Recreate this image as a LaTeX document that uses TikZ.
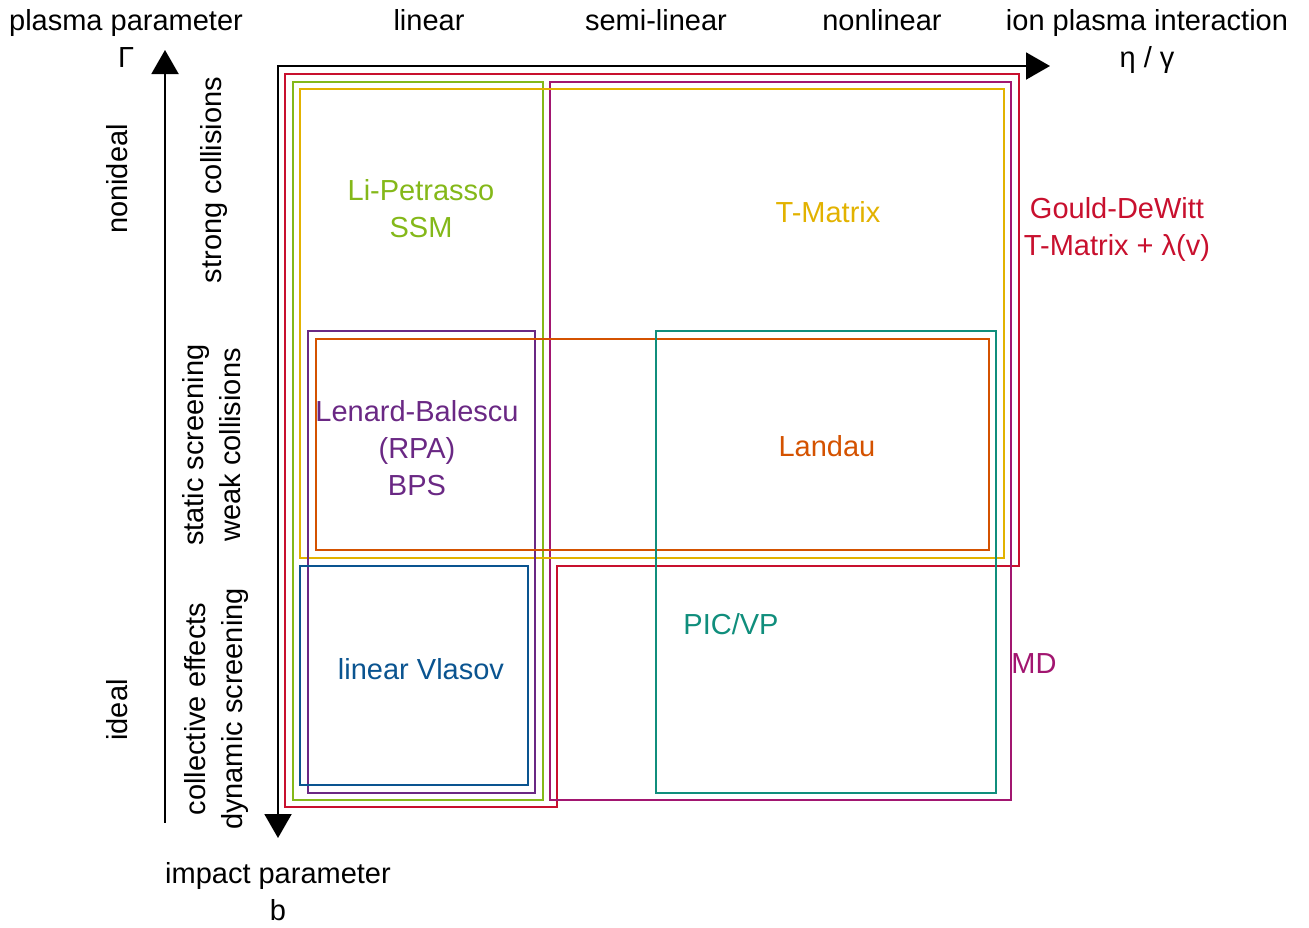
\documentclass[tikz,border=0pt]{standalone}
\usepackage{fontspec}
\setmainfont{Liberation Sans}
\usepackage{tikz}
\usetikzlibrary{positioning,arrows.meta}
\definecolor{gdred}{RGB}{200,16,46}
\definecolor{lpgreen}{RGB}{132,184,25}
\definecolor{tmyellow}{RGB}{226,178,0}
\definecolor{mdmagenta}{RGB}{162,22,112}
\definecolor{lbpurple}{RGB}{106,40,132}
\definecolor{ldorange}{RGB}{212,82,0}
\definecolor{lvblue}{RGB}{10,84,144}
\definecolor{picteal}{RGB}{16,142,124}
\tikzstyle{txt} = [font=\fontsize{29}{37}\selectfont, align=center, inner sep=0pt]
\tikzstyle{region} = [draw, line width=2pt]
\tikzstyle{line} = [draw, line width=2pt, line cap=rect, -{Triangle[length=24pt,width=27pt]}]

\begin{document}
\begin{tikzpicture}[x=1pt,y=-1pt]
   \useasboundingbox (0,0) rectangle (1309,927);

% AXES %%%%%%%%%%%%%%%%%%%%%%%%%%%%%%%%%%%%%%%%%%%%%%%%%%%%%%%%%%%%%%%
   \coordinate (origin) at (278,66);
   \coordinate (etaend) at (1050,66);
   \coordinate (bend) at (278,838);
   \coordinate (gammastart) at (165,822);
   \coordinate (gammaend) at (165,50);

   \node[txt, anchor=base](linear) at (429,30){linear};
   \node[txt, anchor=base](semilinear) at (656,30){semi-linear};
   \node[txt, anchor=base](nonlinear) at (882,30){nonlinear};
   \node[txt](plasmaparam) at (126,38){plasma parameter\\Γ};
   \node[txt](ionplasma) at (1147,41){ion plasma interaction\\η / γ};
   \node[txt](impactparam) at (278,892){impact parameter\\b};

   \node[txt, rotate=90, anchor=base](nonideal) at (127,179){nonideal};
   \node[txt, rotate=90, anchor=base](ideal) at (127,710){ideal};
   \node[txt, rotate=90, anchor=base](strongcoll) at (221,180){strong collisions};
   \node[txt, rotate=90](weakcoll) at (212,445){static screening\\weak collisions};
   \node[txt, rotate=90](dynscreen) at (216,709){collective effects\\dynamic screening};

% REGIONS %%%%%%%%%%%%%%%%%%%%%%%%%%%%%%%%%%%%%%%%%%%%%%%%%%%%%%%%%%%%
   \draw[region, gdred] (285,74) -- (1019,74) -- (1019,566) -- (557,566) -- (557,807) -- (285,807) -- cycle;
   \draw[region, lpgreen] (293,82) rectangle (543,800);
   \draw[region, mdmagenta] (550,82) rectangle (1011,800);
   \draw[region, tmyellow] (300,89) rectangle (1004,558);
   \draw[region, lbpurple] (308,331) rectangle (535,793);
   \draw[region, ldorange] (316,339) rectangle (989,550);
   \draw[region, picteal] (656,331) rectangle (996,793);
   \draw[region, lvblue] (300,566) rectangle (528,785);

% MODELS %%%%%%%%%%%%%%%%%%%%%%%%%%%%%%%%%%%%%%%%%%%%%%%%%%%%%%%%%%%%%
   \node[txt, lpgreen](lipetrasso) at (421,209){Li-Petrasso\\SSM};
   \node[txt, tmyellow, anchor=base](tmatrix) at (828,222){T-Matrix};
   \node[txt, gdred](goulddewitt) at (1117,229){Gould-DeWitt\\T-Matrix + λ(v)};
   \node[txt, lbpurple](lenard) at (417,448){Lenard-Balescu\\(RPA)\\BPS};
   \node[txt, ldorange, anchor=base](landau) at (827,456){Landau};
   \node[txt, picteal, anchor=base](picvp) at (731,634){PIC/VP};
   \node[txt, lvblue, anchor=base](linvlasov) at (421,679){linear Vlasov};
   \node[txt, mdmagenta, anchor=base](md) at (1034,673){MD};

   % Draw edges
   \path [line] (origin) -- (etaend);
   \path [line] (origin) -- (bend);
   \path [line] (gammastart) -- (gammaend);

\end{tikzpicture}
\end{document}
